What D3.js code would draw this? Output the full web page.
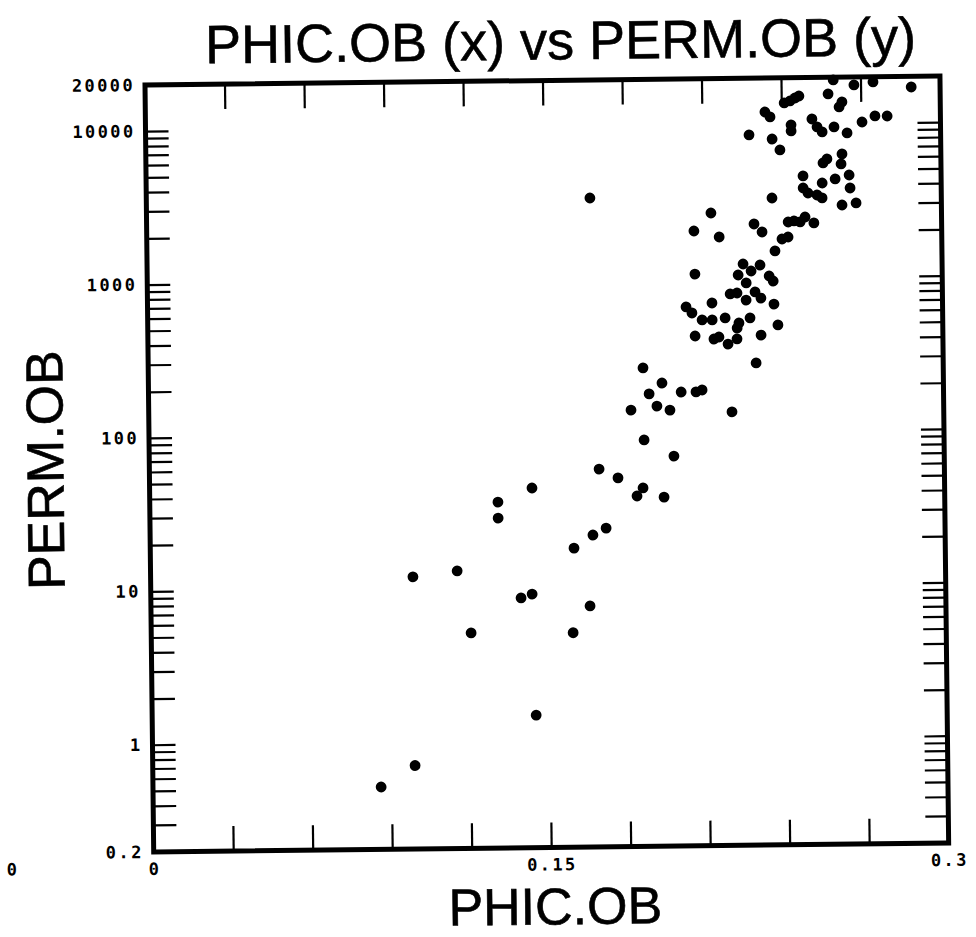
<!DOCTYPE html>
<html><head><meta charset="utf-8">
<script src="https://d3js.org/d3.v7.min.js"></script>
<style>html,body{margin:0;padding:0;background:#fff;overflow:hidden}</style>
</head><body>
<script>
// ---- data ----
const phic = [0.0861,0.0990,0.1449,0.0990,0.1157,0.1207,0.1314,0.1314,0.1443,0.1397,0.1439,0.1592,0.1657,0.1599,0.1671,0.1721,0.1697,0.1768,0.1839,0.1862,0.1941,0.1868,0.1980,0.1820,0.1918,0.1967,0.1889,0.1938,0.1867,0.2010,0.2066,0.2089,0.2201,0.2294,0.1674,
0.2370,0.2249,0.2313,0.2067,0.2230,0.2279,0.2347,0.2362,0.2260,0.2199,0.2225,0.2259,0.2293,0.2315,0.2364,0.2130,0.2032,0.2054,0.2092,0.2130,0.2179,0.2231,0.2224,0.2273,0.2378,0.2065,0.2136,0.2155,0.2189,0.2223,0.2314,
0.2597,0.2675,0.2747,0.2891,0.2411,0.2433,0.2452,0.2467,0.2577,0.2629,0.2618,0.2338,0.2357,0.2436,0.2436,0.2515,0.2534,0.2553,0.2598,0.2647,0.2704,0.2753,0.2799,0.2277,0.2364,0.2393,0.2627,0.2570,0.2555,0.2623,0.2479,0.2653,0.2600,0.2551,0.2656,0.2479,0.2497,0.2531,0.2550,0.2625,0.2678,0.2361,0.2421,0.2443,0.2466,0.2485,0.2518,0.2292,0.2322,0.2130,0.2065,0.2160,0.2397,0.2420];
const perm = [0.51,0.70,1.46,11.9,12.9,5.07,36.0,28.3,44.2,8.5,9.0,5.0,7.45,17.8,21.6,23.9,58.1,50.7,38.5,43.4,37.7,89.2,69.7,140,148,139,178,209,263,182,182,187,134,278,3400,
1489,1230,1208,1067,1044,1106,1023,948,925,787,797,716,807,736,671,689,652,595,535,534,549,508,471,547,490,421,401,413,371,400,422,
19190,17740,18490,17040,13700,14100,14730,15170,15570,13770,12780,12000,11130,9840,8990,10720,9500,8810,9475,8640,10160,11100,11070,8530,7990,6770,6310,5870,5530,5430,4566,4596,4340,4094,3781,3811,3532,3423,3270,2933,3016,3297,2294,2328,2290,2465,2250,2239,1983,2660,2036,1853,1779,1831];
const xTickValues = [0.03,0.06,0.09,0.12,0.15,0.18,0.21,0.24,0.27];
const xTickLabels = [{v:0,t:"0"},{v:0.15,t:"0.15"},{v:0.3,t:"0.3"}];
const yTickLabels = [{v:20000,t:"20000"},{v:10000,t:"10000"},{v:1000,t:"1000"},{v:100,t:"100"},{v:10,t:"10"},{v:1,t:"1"},{v:0.2,t:"0.2"}];
const titleText = "PHIC.OB (x) vs PERM.OB (y)";
const xTitle = "PHIC.OB", yTitle = "PERM.OB";

// ---- layout ----
const W = 976, H = 937, PW = 795, PH = 767;
const svg = d3.select("body").append("svg").attr("width", W).attr("height", H);
svg.append("rect").attr("width", W).attr("height", H).attr("fill", "#fff");
const g = svg.append("g").attr("transform", "translate(145,85) rotate(-0.65)");

const x = d3.scaleLinear().domain([0, 0.3]).range([0, PW]);
const y = d3.scaleLog().domain([0.2, 20000]).range([PH, 0]);

const yMinor = [];
for (let e = -1; e <= 4; e++) for (let k = 1; k <= 9; k++) {
  const v = +(k * Math.pow(10, e)).toPrecision(3);
  if (v > 0.2 && v < 20000) yMinor.push(v);
}

function styleAxis(sel) {
  sel.select(".domain").remove();
  sel.selectAll(".tick line").attr("stroke", "#000").attr("stroke-width", 2.2);
}
g.append("g").call(d3.axisRight(y).tickValues(yMinor).tickSize(23).tickFormat("")).call(styleAxis);
g.append("g").attr("transform", `translate(${PW},0)`).call(d3.axisLeft(y).tickValues(yMinor).tickSize(23).tickFormat("")).call(styleAxis);
g.append("g").call(d3.axisBottom(x).tickValues(xTickValues).tickSize(25).tickFormat("")).call(styleAxis);
g.append("g").attr("transform", `translate(0,${PH})`).call(d3.axisTop(x).tickValues(xTickValues).tickSize(25).tickFormat("")).call(styleAxis);

g.append("rect").attr("x", 0).attr("y", 0).attr("width", PW).attr("height", PH)
  .attr("fill", "none").attr("stroke", "#000").attr("stroke-width", 5);

const tickFont = "'DejaVu Sans Mono', monospace";
g.selectAll("text.ylab").data(yTickLabels).join("text").attr("class", "ylab")
  .attr("x", -10).attr("y", d => y(d.v) + 6)
  .attr("text-anchor", "end").attr("font-family", tickFont).attr("font-weight", "bold")
  .attr("font-size", 17).attr("letter-spacing", 2.4).text(d => d.t);
g.selectAll("text.xlab").data(xTickLabels).join("text").attr("class", "xlab")
  .attr("x", d => x(d.v) + 1).attr("y", PH + 23)
  .attr("text-anchor", "middle").attr("font-family", tickFont).attr("font-weight", "bold")
  .attr("font-size", 17).attr("letter-spacing", 2.4).text(d => d.t);
// stray label at the far left edge of the page
g.append("text").attr("x", -142).attr("y", PH + 22).attr("text-anchor", "middle")
  .attr("font-family", tickFont).attr("font-weight", "bold").attr("font-size", 17).text("0");

const pts = phic.map((p, i) => ({p, k: perm[i]}));
g.selectAll("circle").data(pts).join("circle")
  .attr("cx", d => x(d.p)).attr("cy", d => y(d.k)).attr("r", 5.4).attr("fill", "#000");

const titleFont = "'Liberation Sans', Arial, sans-serif";
g.append("text").attr("x", 416).attr("y", -21).attr("text-anchor", "middle")
  .attr("font-family", titleFont).attr("font-size", 54).attr("stroke", "#000").attr("stroke-width", 0.6).text(titleText);
g.append("text").attr("x", 401).attr("y", PH + 77).attr("text-anchor", "middle")
  .attr("font-family", titleFont).attr("font-size", 52).attr("stroke", "#000").attr("stroke-width", 0.6).text(xTitle);
g.append("text").attr("transform", `translate(-86,${384}) rotate(-90)`).attr("text-anchor", "middle")
  .attr("font-family", titleFont).attr("font-size", 52).attr("stroke", "#000").attr("stroke-width", 0.6).text(yTitle);
</script>
</body></html>
